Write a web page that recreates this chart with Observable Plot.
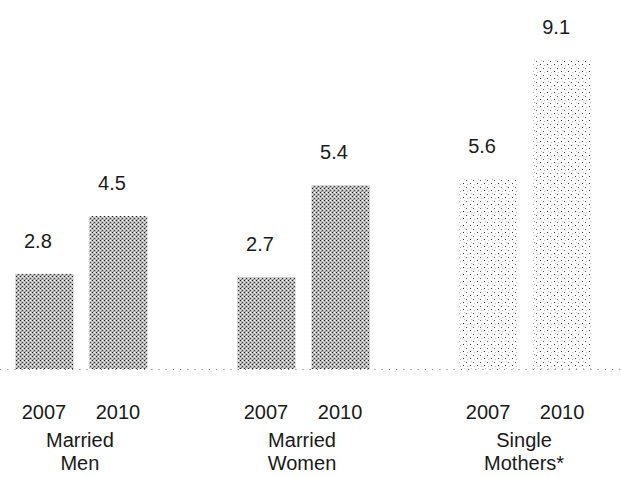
<!DOCTYPE html>
<html>
<head>
<meta charset="utf-8">
<script src="https://cdn.jsdelivr.net/npm/d3@7"></script>
<script src="https://cdn.jsdelivr.net/npm/@observablehq/plot@0.6"></script>
<style>
  html, body { margin: 0; padding: 0; background: #fff; }
  #chart svg { display: block; }
</style>
</head>
<body>
<div id="chart"></div>
<script>
// ---- data ----
const groups = ["Married Men", "Married Women", "Single Mothers*"];
const groupLabels = ["Married\nMen", "Married\nWomen", "Single\nMothers*"];
const years = ["2007", "2010"];
const values2007 = [2.8, 2.7, 5.6];
const values2010 = [4.5, 5.4, 9.1];

// table built from the arrays
const data = [];
groups.forEach((g, i) => {
  data.push({group: g, year: years[0], value: values2007[i]});
  data.push({group: g, year: years[1], value: values2010[i]});
});
const key = d => d.group + "|" + d.year;
const xDomain = [];
groups.forEach((g, i) => {
  years.forEach(y => xDomain.push(g + "|" + y));
  if (i < groups.length - 1) xDomain.push("gap" + i);
});
const groupTable = groups.map((g, i) => ({group: g, label: groupLabels[i]}));
const isLight = d => d.group === "Single Mothers*";

const font = "'Liberation Sans', Arial, sans-serif";

const chart = Plot.plot({
  width: 621,
  height: 477,
  marginTop: 29,
  marginBottom: 108,
  marginLeft: 8,
  marginRight: 22,
  style: {fontFamily: font, fontSize: "20px", color: "#1a1a1a", background: "#fff"},
  x: {domain: xDomain, paddingInner: 0.217, paddingOuter: 0.1, round: false, axis: null},
  y: {domain: [0, 10], axis: null},
  marks: [
    Plot.ruleY([0], {stroke: "#8a8a8a", strokeWidth: 1.2, strokeDasharray: "1.2 6", insetLeft: -8, insetRight: -22}),
    Plot.barY(data, {filter: d => !isLight(d), x: key, y: "value", fill: "url(#texDark)"}),
    Plot.barY(data, {filter: isLight, x: key, y: "value", fill: "url(#texLight)"}),
    Plot.text(data, {x: key, y: "value", text: d => d.value.toFixed(1), dy: -33, dx: -7, lineAnchor: "middle", fill: "#1a1a1a", fontSize: 20}),
    Plot.text(data, {x: key, text: "year", frameAnchor: "bottom", lineAnchor: "middle", dy: 43, dx: -1, fill: "#1a1a1a", fontSize: 20}),
    Plot.text(groupTable, {x: d => d.group + "|2007", text: "label", frameAnchor: "bottom", lineAnchor: "middle", dy: 82, dx: 35, lineHeight: 1.12, fill: "#1a1a1a", fontSize: 20})
  ]
});

// texture patterns used as bar fills
const svg = d3.select(chart);
const defs = svg.insert("defs", ":first-child");
const dark = defs.append("pattern").attr("id", "texDark").attr("patternUnits", "userSpaceOnUse")
  .attr("width", 4).attr("height", 4);
dark.append("rect").attr("width", 4).attr("height", 4).attr("fill", "#b8b8b8");
[[0,0,"#222222"],[2,2,"#3a3a3a"],[2,0,"#ffffff"],[0,2,"#e0e0e0"],[1,3,"#8a8a8a"],[3,1,"#d0d0d0"]].forEach(([x,y,c]) =>
  dark.append("rect").attr("x", x).attr("y", y).attr("width", 1).attr("height", 1).attr("fill", c).attr("shape-rendering", "crispEdges"));
const light = defs.append("pattern").attr("id", "texLight").attr("patternUnits", "userSpaceOnUse")
  .attr("width", 7).attr("height", 7);
light.append("rect").attr("width", 7).attr("height", 7).attr("fill", "#ffffff");
[[1,1,"#333333"],[4,5,"#555555"],[5,2,"#bdbdbd"],[2,4,"#c8c8c8"]].forEach(([x,y,c]) =>
  light.append("rect").attr("x", x).attr("y", y).attr("width", 1).attr("height", 1).attr("fill", c).attr("shape-rendering", "crispEdges"));

document.getElementById("chart").appendChild(chart);
</script>
</body>
</html>
